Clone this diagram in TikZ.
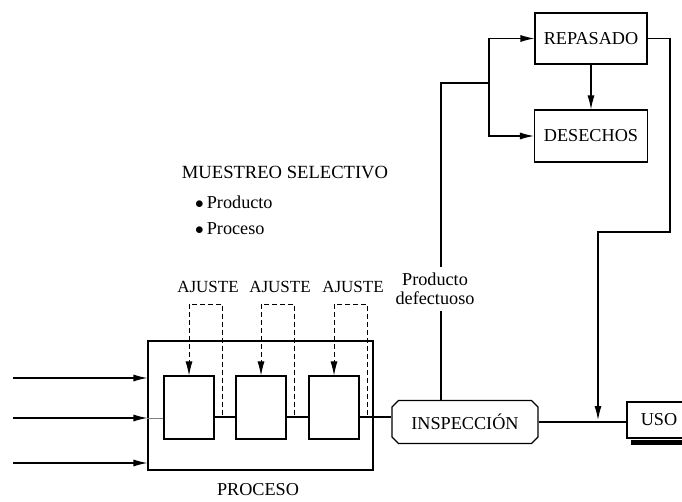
\documentclass[tikz,border=0pt]{standalone}
\usepackage{fontspec}
\setmainfont{Liberation Serif}
\usetikzlibrary{arrows.meta,shapes.misc}
\begin{document}
\begin{tikzpicture}[x=1pt,y=1pt,line join=miter,
  font=\fontsize{18.2}{18.5}\selectfont,
  box/.style={draw,line width=1.1pt,inner sep=0pt},
  txt/.style={inner sep=1pt},
  flow/.style={line width=1.1pt},
  tip/.style={-{Latex[length=14pt,width=7pt]}},
  adj/.style={line width=.9pt,dash pattern=on 5pt off 3pt}]
\useasboundingbox (0,0) rectangle (682,501);
\clip (0,0) rectangle (682,501);
% proceso con sus tres etapas
\node[box,minimum width=225pt,minimum height=129pt] (proc) at (260.5,95.5) {};
\node[txt] (proclbl) at (258,11) {PROCESO};
\foreach \i/\x in {1/189,2/261,3/334}
{
  \node[box,minimum width=50pt,minimum height=63pt] (b\i) at (\x,93.5) {};
  \node[txt,font=\fontsize{17}{18}\selectfont] (adj\i)
    at ([xshift=19pt,yshift=88pt]b\i.north) {AJUSTE};
  \draw[adj,tip] ([xshift=8pt,yshift=-7.5pt]b\i.east) |- ([yshift=71pt]b\i.north)
    -- (b\i.north);
}
% entradas
\foreach \y/\n in {123/a,83/b,38/c}
  \coordinate (in\n) at (13,\y);
\foreach \n in {a,b,c}
  \draw[flow,tip] (in\n) -- (in\n -| proc.west);
\draw[gray,line width=.4pt] (inb -| proc.west) -- (inb -| b1.west);
% inspeccion y uso
\node[box,chamfered rectangle,chamfered rectangle xsep=3pt,
  chamfered rectangle ysep=3.5pt,minimum width=146pt,minimum height=43pt]
  (insp) at (465,79) {INSPECCIÓN};
\node[box,minimum width=64pt,minimum height=36pt] (uso) at (659,81) {USO};
\fill ([xshift=5pt,yshift=-1pt]uso.south west) rectangle
  ([xshift=5pt,yshift=-6pt]uso.south east);
\draw[flow] ([yshift=-9.5pt]b1.east) -- ([yshift=-9.5pt]b2.west);
\draw[flow] ([yshift=-9.5pt]b2.east) -- ([yshift=-9.5pt]b3.west);
\draw[flow] ([yshift=-9.5pt]b3.east) -- ([yshift=-9.5pt]b3.east -| insp.west);
\draw[flow] (insp.east) -- (insp.east -| uso.west);
% muestreo
\node[txt,font=\fontsize{18.6}{19}\selectfont] (muestreo) at (285,329)
  {MUESTREO SELECTIVO};
\node[txt,anchor=west] (mprod) at (194,299) {$\bullet$\,Producto};
\node[txt,anchor=west] (mproc) at (194,272) {$\bullet$\,Proceso};
% producto defectuoso
\node[align=center,inner sep=6pt] (defect) at (435,212) {Producto\\defectuoso};
\node[box,minimum width=112pt,minimum height=51pt] (rep) at (591,462.5) {REPASADO};
\node[box,minimum width=113pt,minimum height=52pt] (des) at (591,365) {DESECHOS};
\coordinate (up) at (441,418);
\coordinate (split) at (489,418);
\coordinate (ret1) at (670,269);
\coordinate (ret2) at (598,269);
\draw[flow] (insp.north -| up) -- (defect.south -| up);
\draw[flow] (defect.north -| up) -- (up) -- (split);
\draw[flow,tip] (split) |- (rep.west);
\draw[flow,tip] (split) |- (des.west);
\draw[flow,tip] (rep.south) -- (des.north);
\draw[flow,tip] (rep.east) -| (ret1) -- (ret2) -- (ret2 |- uso.west);
\end{tikzpicture}
\end{document}
